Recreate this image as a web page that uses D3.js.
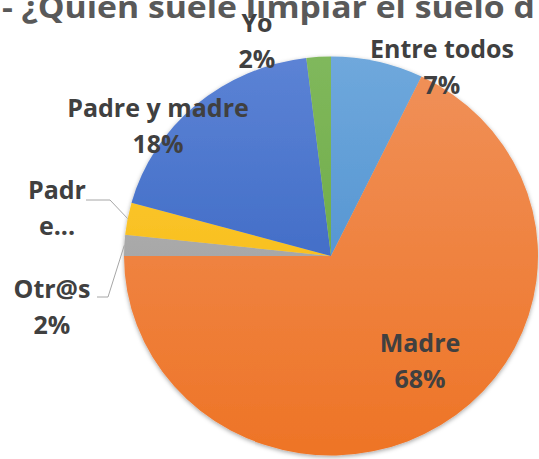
<!DOCTYPE html>
<html>
<head>
<meta charset="utf-8">
<script src="https://cdn.jsdelivr.net/npm/d3@7"></script>
<style>
  html, body { margin: 0; padding: 0; background: #ffffff; }
  svg { display: block; }
  text { font-family: "Open Sans", "Noto Sans", sans-serif; font-weight: 700; }
</style>
</head>
<body>
<div id="chart"></div>
<script>
// ---- data ----
const titleText = "- ¿Quién suele limpiar el suelo d";
const categories = ["Entre todos", "Madre", "Otr@s", "Padre", "Padre y madre", "Yo"];
const values = [7.2, 67.8, 1.7, 2.6, 18.8, 1.9];
const nameLines = [["Entre todos"], ["Madre"], ["Otr@s"], ["Padr", "e..."], ["Padre y madre"], ["Yo"]];
const pctLabels = ["7%", "68%", "2%", "", "18%", "2%"];
const colorsTop = ["#6FA8DC", "#F0915A", "#B8B8B8", "#FFCC40", "#5C83D5", "#80B85C"];
const colorsBottom = ["#3E85C9", "#EE7426", "#989898", "#F2B500", "#2A5ABB", "#62A238"];

// ---- layout ----
const W = 539, H = 459;
const cx = 331, cy = 256, R = 199.5, sx = 207 / 199.5;
const lineGap = 36;
// label anchor offsets relative to pie centre (text-anchor middle, first baseline)
const labelOffsets = [[111, -198], [89, 96], [-279, 42], [-274, -57], [-173, -139], [-74, -224]];
// leader lines (only for the small left slices): start x, end of horizontal run, y
const leaders = { 2: [-234, -223, 41], 3: [-245, -221, -56] };

const svg = d3.select("#chart").append("svg")
  .attr("width", W).attr("height", H);

const defs = svg.append("defs");
const shadow = defs.append("filter").attr("id", "shadow")
  .attr("x", "-10%").attr("y", "-10%").attr("width", "120%").attr("height", "120%");
shadow.append("feDropShadow").attr("dx", 0).attr("dy", 1.5).attr("stdDeviation", 2)
  .attr("flood-color", "#000").attr("flood-opacity", 0.35);

categories.forEach((c, i) => {
  const g = defs.append("linearGradient").attr("id", "grad" + i)
    .attr("gradientUnits", "userSpaceOnUse")
    .attr("x1", 0).attr("y1", -R).attr("x2", 0).attr("y2", R);
  g.append("stop").attr("offset", "0%").attr("stop-color", colorsTop[i]);
  g.append("stop").attr("offset", "100%").attr("stop-color", colorsBottom[i]);
});

const data = categories.map((c, i) => ({ name: c, value: values[i], i }));
const pie = d3.pie().sort(null).value(d => d.value);
const arcs = pie(data);
const arc = d3.arc().innerRadius(0).outerRadius(R);

const pieG = svg.append("g")
  .attr("transform", `translate(${cx},${cy}) scale(${sx},1)`)
  .attr("filter", "url(#shadow)");

pieG.selectAll("path").data(arcs).enter().append("path")
  .attr("d", arc)
  .attr("fill", d => `url(#grad${d.data.i})`);

// title (stretched horizontally like the reference picture)
const title = svg.append("text")
  .attr("x", 0).attr("y", 0)
  .attr("font-size", 31)
  .attr("fill", "#595959")
  .text(titleText);
const endIdx = titleText.indexOf("suelo d") + 5;
const wSub = title.node().getSubStringLength(0, endIdx);
const fx = 503 / wSub;
title.attr("transform", `translate(2,18) scale(${fx},1)`);

// leader lines
Object.keys(leaders).forEach(k => {
  const a = arcs[+k];
  const mid = (a.startAngle + a.endAngle) / 2;
  const ex = cx + sx * R * Math.sin(mid);
  const ey = cy - R * Math.cos(mid);
  const [x0, x1, yy] = leaders[k];
  svg.append("polyline")
    .attr("points", `${cx + x0},${cy + yy} ${cx + x1},${cy + yy} ${ex},${ey}`)
    .attr("fill", "none").attr("stroke", "#a6a6a6").attr("stroke-width", 1);
});

// labels
const labelG = svg.append("g");
arcs.forEach((a, i) => {
  const [ox, oy] = labelOffsets[i];
  const t = labelG.append("text")
    .attr("x", cx + ox).attr("y", cy + oy)
    .attr("text-anchor", "middle")
    .attr("font-size", 25)
    .attr("fill", "#404040");
  const lines = nameLines[i].concat(pctLabels[i] ? [pctLabels[i]] : []);
  lines.forEach((ln, j) => {
    t.append("tspan").attr("x", cx + ox).attr("dy", j === 0 ? 0 : lineGap).text(ln);
  });
});
</script>
</body>
</html>
